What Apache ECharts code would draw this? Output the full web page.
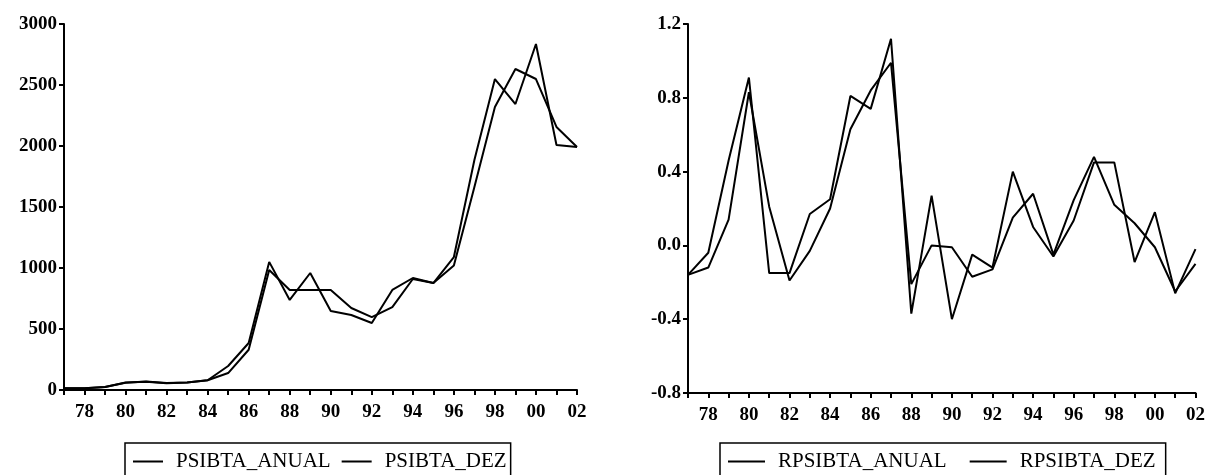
<!DOCTYPE html>
<html lang="en">
<head>
    <meta charset="UTF-8">
    <title>PSIBTA</title>
    <script src="https://cdn.jsdelivr.net/npm/echarts@6/dist/echarts.min.js"></script>
    <style>
        html, body { margin: 0; padding: 0; background: #fff; }
        #container { width: 1208px; height: 475px; }
    </style>
</head>
<body>
    <div id="container"></div>
    <script>
        // anos 1977 - 2002
        var years = ['77', '78', '79', '80', '81', '82', '83', '84', '85', '86', '87', '88', '89',
            '90', '91', '92', '93', '94', '95', '96', '97', '98', '99', '00', '01', '02'];

        var psibtaAnual = [15, 15, 25, 60, 70, 58, 62, 80, 139, 330, 984, 820, 820,
            820, 672, 598, 680, 910, 877, 1020, 1664, 2320, 2631, 2549, 2156, 1992];
        var psibtaDez = [15, 15, 25, 62, 68, 55, 62, 80, 197, 385, 1050, 738, 959,
            648, 615, 549, 820, 918, 877, 1090, 1885, 2549, 2344, 2836, 2008, 1992];

        var rpsibtaAnual = [-0.16, -0.12, 0.14, 0.83, 0.21, -0.19, -0.03, 0.20, 0.63, 0.84, 0.99, -0.21, 0.00,
            -0.01, -0.17, -0.13, 0.15, 0.28, -0.05, 0.245, 0.48, 0.22, 0.12, -0.01, -0.25, -0.10];
        var rpsibtaDez = [-0.16, -0.04, 0.46, 0.91, -0.15, -0.15, 0.17, 0.25, 0.81, 0.74, 1.12, -0.37, 0.27,
            -0.40, -0.05, -0.12, 0.40, 0.10, -0.06, 0.135, 0.45, 0.45, -0.09, 0.18, -0.26, -0.02];

        var myChart = echarts.init(document.getElementById('container'));

        var font = 'Liberation Serif';
        var axisLine = { show: true, onZero: false, lineStyle: { color: '#000', width: 2 } };
        var axisTick = { show: true, inside: false, length: 5, lineStyle: { color: '#000', width: 2 } };
        var axisLabel = { color: '#000', fontFamily: font, fontSize: 19, fontWeight: 'bold' };

        function xAxis(grid) {
            return {
                type: 'category',
                gridIndex: grid,
                data: years,
                boundaryGap: false,
                axisLine: axisLine,
                axisTick: Object.assign({}, axisTick, { interval: 0 }),
                axisLabel: Object.assign({}, axisLabel, {
                    margin: 13,
                    interval: function (i) { return i % 2 === 1; }
                }),
                splitLine: { show: false }
            };
        }

        function line(name, data, grid) {
            return {
                name: name,
                type: 'line',
                xAxisIndex: grid,
                yAxisIndex: grid,
                data: data,
                symbol: 'none',
                lineStyle: { color: '#000', width: 2 },
                itemStyle: { color: '#000' },
                animation: false
            };
        }

        var legendBase = {
            orient: 'horizontal',
            top: 443,
            borderColor: '#000',
            borderWidth: 1.5,
            borderRadius: 0,
            icon: 'rect',
            itemHeight: 2,
            textStyle: { color: '#000', fontFamily: font, fontSize: 21, padding: [0, 0, 0, 8] }
        };

        option = {
            backgroundColor: '#fff',
            animation: false,
            grid: [
                { left: 64, right: 631, top: 24, bottom: 85 },
                { left: 688, right: 11, top: 24, bottom: 82 }
            ],
            xAxis: [xAxis(0), xAxis(1)],
            yAxis: [
                {
                    type: 'value', gridIndex: 0, min: 0, max: 3000, interval: 500,
                    axisLine: axisLine, axisTick: axisTick,
                    axisLabel: Object.assign({}, axisLabel, {
                        margin: 7,
                        formatter: function (v) { return String(v); }
                    }),
                    splitLine: { show: false }
                },
                {
                    type: 'value', gridIndex: 1, min: -0.8, max: 1.2, interval: 0.4,
                    axisLine: axisLine, axisTick: axisTick,
                    axisLabel: Object.assign({}, axisLabel, {
                        margin: 7,
                        formatter: function (v) { return v.toFixed(1); }
                    }),
                    splitLine: { show: false }
                }
            ],
            legend: [
                Object.assign({}, legendBase, {
                    left: 125, itemWidth: 30, itemGap: 11, padding: [8, 4, 12, 8],
                    data: ['PSIBTA_ANUAL', 'PSIBTA_DEZ']
                }),
                Object.assign({}, legendBase, {
                    left: 720, itemWidth: 37, itemGap: 23, padding: [8, 10, 12, 8],
                    data: ['RPSIBTA_ANUAL', 'RPSIBTA_DEZ']
                })
            ],
            series: [
                line('PSIBTA_ANUAL', psibtaAnual, 0),
                line('PSIBTA_DEZ', psibtaDez, 0),
                line('RPSIBTA_ANUAL', rpsibtaAnual, 1),
                line('RPSIBTA_DEZ', rpsibtaDez, 1)
            ]
        };

        myChart.setOption(option, true);
    </script>
</body>
</html>
